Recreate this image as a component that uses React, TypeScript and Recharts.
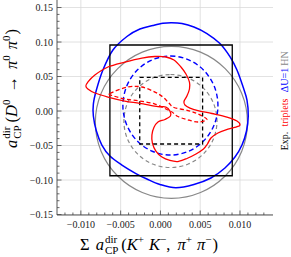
import React from 'react';
import { ScatterChart, Scatter, XAxis, YAxis, CartesianGrid } from 'recharts';

// ---------- axis ticks ----------
const xMajor = [-0.01, -0.005, 0, 0.005, 0.01];
const xMajorLabels = ['\u22120.010', '\u22120.005', '0.000', '0.005', '0.010'];
const xMinor = [-0.012, -0.011, -0.009, -0.008, -0.007, -0.006, -0.004, -0.003, -0.002, -0.001, 0.001, 0.002, 0.003, 0.004, 0.006, 0.007, 0.008, 0.009, 0.011, 0.012, 0.013];
const yMajor = [-0.15, -0.1, -0.05, 0, 0.05, 0.1, 0.15];
const yMajorLabels = ['\u22120.15', '\u22120.10', '\u22120.05', '0.00', '0.05', '0.10', '0.15'];
const yMinor = [-0.14, -0.13, -0.12, -0.11, -0.09, -0.08, -0.07, -0.06, -0.04, -0.03, -0.02, -0.01, 0.01, 0.02, 0.03, 0.04, 0.06, 0.07, 0.08, 0.09, 0.11, 0.12, 0.13, 0.14];
const xDomain = [-0.013, 0.01415];
const yDomain = [-0.1507, 0.1609];

// ---------- shapes (x, y) ----------
const graySolid: [number, number][] = [
  [0.00138, 0.0938], [0.00504, 0.0854], [0.00814, 0.0614], [0.01021, 0.0258], [0.01094, -0.0164],
  [0.01021, -0.0586], [0.00814, -0.0942], [0.00504, -0.1181], [0.00138, -0.1265], [-0.00228, -0.1181],
  [-0.00537, -0.0942], [-0.00745, -0.0586], [-0.00818, -0.0164], [-0.00745, 0.0258], [-0.00537, 0.0614],
  [-0.00228, 0.0854],
];
const grayDashed: [number, number][] = [
  [0.00126, 0.0529], [0.0035, 0.0478], [0.0054, 0.0332], [0.00667, 0.0113], [0.00711, -0.0145],
  [0.00667, -0.0403], [0.0054, -0.0622], [0.0035, -0.0768], [0.00126, -0.0819], [-0.00098, -0.0768],
  [-0.00288, -0.0622], [-0.00415, -0.0403], [-0.00459, -0.0145], [-0.00415, 0.0113], [-0.00288, 0.0332],
  [-0.00098, 0.0478],
];
const blueDashed: [number, number][] = [
  [0.00126, 0.0797], [0.00355, 0.0742], [0.00548, 0.0587], [0.00678, 0.0354], [0.00723, 0.008],
  [0.00678, -0.0194], [0.00548, -0.0428], [0.00355, -0.0583], [0.00126, -0.0638], [-0.00103, -0.0583],
  [-0.00297, -0.0428], [-0.00426, -0.0194], [-0.00472, 0.008], [-0.00426, 0.0354], [-0.00297, 0.0587],
  [-0.00103, 0.0742],
];
const blueSolid: [number, number][] = [
  [0.00141, 0.128], [0.0027, 0.1268], [0.00421, 0.1217], [0.00585, 0.1123], [0.00748, 0.0978],
  [0.00874, 0.0787], [0.00962, 0.0594], [0.01038, 0.0352], [0.01088, 0.0159], [0.01104, -0.0072],
  [0.01082, -0.029], [0.01025, -0.0493], [0.00937, -0.0667], [0.00811, -0.0826], [0.00635, -0.0971],
  [0.00421, -0.1065], [0.00195, -0.1112], [-0.00006, -0.1065], [-0.0017, -0.0986], [-0.00308, -0.0906],
  [-0.00484, -0.0783], [-0.00635, -0.0652], [-0.00736, -0.0493], [-0.00805, -0.029], [-0.00843, -0.0072],
  [-0.00843, 0.0101], [-0.00805, 0.0304], [-0.00723, 0.0594], [-0.00597, 0.0884], [-0.00421, 0.108],
  [-0.00258, 0.1188], [-0.00094, 0.1239], [0.00031, 0.1271],
];
const redSolid: [number, number][] = [
  [-0.00937, 0.0362], [-0.00912, 0.042], [-0.00824, 0.0522], [-0.0066, 0.0638], [-0.00447, 0.071],
  [-0.00233, 0.0768], [-0.00069, 0.079], [0.00069, 0.0783], [0.0017, 0.0739], [0.00258, 0.0638],
  [0.00321, 0.0536], [0.00365, 0.042], [0.00365, 0.0319], [0.00333, 0.0217], [0.00296, 0.0138],
  [0.00308, 0.0087], [0.00371, 0.0043], [0.00472, 0.0007], [0.00648, -0.0036], [0.00836, -0.0087],
  [0.00962, -0.0145], [0.01, -0.0203], [0.0095, -0.0232], [0.00849, -0.0261], [0.00723, -0.0319],
  [0.00635, -0.0391], [0.00591, -0.0478], [0.00541, -0.0551], [0.00447, -0.0623], [0.00333, -0.0688],
  [0.0022, -0.0732], [0.00119, -0.0717], [0.00019, -0.0667], [-0.00057, -0.058], [-0.00101, -0.0464],
  [-0.00107, -0.0348], [-0.00082, -0.0239], [-0.00031, -0.0159], [0.00057, -0.0123], [0.00126, -0.0072],
  [0.00119, 0.0], [0.00069, 0.0058], [-0.00031, 0.0065], [-0.00258, 0.0112], [-0.00447, 0.0145],
  [-0.0066, 0.0203], [-0.00824, 0.0261], [-0.00912, 0.0319],
];
const redDashed: [number, number][] = [
  [-0.00635, 0.0254], [-0.00409, 0.0348], [-0.00233, 0.0348], [-0.00069, 0.0275], [0.00031, 0.0203],
  [0.00107, 0.0116], [0.0017, 0.0051], [0.00346, 0.0007], [0.00472, -0.0043], [0.00585, -0.0123],
  [0.00472, -0.0159], [0.00333, -0.0123], [0.0022, -0.008], [0.00145, -0.0014], [0.00069, 0.0029],
  [-0.00069, 0.0101], [-0.00258, 0.0145], [-0.00447, 0.0174], [-0.00585, 0.0217],
];
const boxSolid: [number, number][] = [[-0.00635, 0.0957], [0.00903, 0.0957], [0.00903, -0.0938], [-0.00635, -0.0938]];
const boxDashed: [number, number][] = [[-0.0026, 0.0488], [0.0053, 0.0488], [0.0053, -0.0478], [-0.0026, -0.0478]];

const sideLabels = ['Exp.', 'triplets', '\u0394U=1', 'HN'];

// ---------- styling ----------
const SERIF = '"Liberation Serif", "Times New Roman", serif';
const FRAME = '#444';
const LABEL = '#222';

const toPts = (a: [number, number][]) => a.map(([x, y]) => ({ x, y }));
const near = (arr: number[], v: number) => arr.findIndex((m) => Math.abs(m - v) < 1e-9);

function catmullClosed(context: any) {
  let pts: number[][] = [];
  return {
    areaStart() {},
    areaEnd() {},
    lineStart() { pts = []; },
    point(x: number, y: number) { pts.push([x, y]); },
    lineEnd() {
      const n = pts.length;
      if (n < 3) return;
      context.moveTo(pts[0][0], pts[0][1]);
      for (let i = 0; i < n; i++) {
        const p0 = pts[(i - 1 + n) % n];
        const p1 = pts[i];
        const p2 = pts[(i + 1) % n];
        const p3 = pts[(i + 2) % n];
        context.bezierCurveTo(
          p1[0] + (p2[0] - p0[0]) / 6, p1[1] + (p2[1] - p0[1]) / 6,
          p2[0] - (p3[0] - p1[0]) / 6, p2[1] - (p3[1] - p1[1]) / 6,
          p2[0], p2[1],
        );
      }
      context.closePath();
    },
  };
}

const noShape = () => <g />;

const BottomTick = (p: any) => {
  const v = p.payload.value;
  const i = near(xMajor, v);
  const major = i >= 0;
  return (
    <g>
      <line x1={p.x} x2={p.x} y1={p.y} y2={p.y - (major ? 4.5 : 2.5)} stroke={FRAME} strokeWidth={0.8} />
      {major && (
        <text x={p.x} y={p.y + 12.5} textAnchor="middle" fontFamily={SERIF} fontSize={10} fill={LABEL}>
          {xMajorLabels[i]}
        </text>
      )}
    </g>
  );
};
const TopTick = (p: any) => {
  const major = near(xMajor, p.payload.value) >= 0;
  return <line x1={p.x} x2={p.x} y1={p.y} y2={p.y + (major ? 4.5 : 2.5)} stroke={FRAME} strokeWidth={0.8} />;
};
const LeftTick = (p: any) => {
  const v = p.payload.value;
  const i = near(yMajor, v);
  const major = i >= 0;
  return (
    <g>
      <line x1={p.x} x2={p.x + (major ? 4.5 : 2.5)} y1={p.y} y2={p.y} stroke={FRAME} strokeWidth={0.8} />
      {major && (
        <text x={p.x - 4} y={p.y} dy="0.35em" textAnchor="end" fontFamily={SERIF} fontSize={10} fill={LABEL}>
          {yMajorLabels[i]}
        </text>
      )}
    </g>
  );
};
const RightTick = (p: any) => {
  const major = near(yMajor, p.payload.value) >= 0;
  return <line x1={p.x} x2={p.x - (major ? 4.5 : 2.5)} y1={p.y} y2={p.y} stroke={FRAME} strokeWidth={0.8} />;
};

const xTicksAll = [...xMajor, ...xMinor].sort((a, b) => a - b);
const yTicksAll = [...yMajor, ...yMinor].sort((a, b) => a - b);

export default function App() {
  const sideColors = ['#000', '#f00', '#00f', '#888'];
  const sideY = [141, 112.5, 80, 58.5];
  const FS = 16.5;
  const SS = 11;
  return (
    <div style={{ position: 'absolute', left: 0, top: 0, width: 291, height: 257, background: '#fff' }}>
      <ScatterChart width={291} height={257} margin={{ top: 0, right: 18, bottom: 0, left: 0 }}>
        <CartesianGrid stroke="#d9d9d9" strokeWidth={0.8} verticalValues={xMajor} horizontalValues={yMajor} />
        <XAxis
          xAxisId={0}
          type="number"
          dataKey="x"
          domain={xDomain}
          allowDataOverflow
          ticks={xTicksAll}
          interval={0}
          tick={BottomTick}
          tickLine={false}
          tickSize={0}
          tickMargin={0}
          axisLine={{ stroke: FRAME, strokeWidth: 0.9 }}
          height={42}
        />
        <XAxis
          xAxisId="top"
          orientation="top"
          type="number"
          dataKey="x"
          domain={xDomain}
          allowDataOverflow
          ticks={xTicksAll}
          interval={0}
          tick={TopTick}
          tickLine={false}
          tickSize={0}
          tickMargin={0}
          axisLine={{ stroke: FRAME, strokeWidth: 0.9 }}
          height={0}
        />
        <YAxis
          yAxisId={0}
          type="number"
          dataKey="y"
          domain={yDomain}
          allowDataOverflow
          ticks={yTicksAll}
          interval={0}
          tick={LeftTick}
          tickLine={false}
          tickSize={0}
          tickMargin={0}
          axisLine={{ stroke: FRAME, strokeWidth: 0.9 }}
          width={57}
        />
        <YAxis
          yAxisId="right"
          orientation="right"
          type="number"
          dataKey="y"
          domain={yDomain}
          allowDataOverflow
          ticks={yTicksAll}
          interval={0}
          tick={RightTick}
          tickLine={false}
          tickSize={0}
          tickMargin={0}
          axisLine={{ stroke: FRAME, strokeWidth: 0.9 }}
          width={0}
        />
        <Scatter data={toPts(graySolid)} line={{ stroke: '#888', strokeWidth: 1.2 }} lineJointType={catmullClosed as any} shape={noShape} isAnimationActive={false} />
        <Scatter data={toPts(grayDashed)} line={{ stroke: '#888', strokeWidth: 1.2, strokeDasharray: '4 3' }} lineJointType={catmullClosed as any} shape={noShape} isAnimationActive={false} />
        <Scatter data={toPts(blueSolid)} line={{ stroke: '#0000ff', strokeWidth: 1.5 }} lineJointType={catmullClosed as any} shape={noShape} isAnimationActive={false} />
        <Scatter data={toPts(blueDashed)} line={{ stroke: '#0000ff', strokeWidth: 1.4, strokeDasharray: '5 3' }} lineJointType={catmullClosed as any} shape={noShape} isAnimationActive={false} />
        <Scatter data={toPts(boxSolid)} line={{ stroke: '#000', strokeWidth: 1.3 }} lineJointType="linearClosed" shape={noShape} isAnimationActive={false} />
        <Scatter data={toPts(boxDashed)} line={{ stroke: '#000', strokeWidth: 1.3, strokeDasharray: '4 3' }} lineJointType="linearClosed" shape={noShape} isAnimationActive={false} />
        <Scatter data={toPts(redSolid)} line={{ stroke: '#ff0000', strokeWidth: 1.3 }} lineJointType={catmullClosed as any} shape={noShape} isAnimationActive={false} />
        <Scatter data={toPts(redDashed)} line={{ stroke: '#ff0000', strokeWidth: 1.3, strokeDasharray: '4 2.5' }} lineJointType={catmullClosed as any} shape={noShape} isAnimationActive={false} />
      </ScatterChart>
      <svg width={291} height={257} style={{ position: 'absolute', left: 0, top: 0, pointerEvents: 'none' }}>
        {sideLabels.map((t, i) => (
          <text
            key={t}
            transform={`translate(284,${sideY[i]}) rotate(-90)`}
            textAnchor="middle"
            dy="0.35em"
            fontFamily={SERIF}
            fontSize={10}
            fill={sideColors[i]}
          >
            {t}
          </text>
        ))}
        <text x={149} y={250} textAnchor="middle" fontFamily={SERIF} fontSize={FS} fill="#000">
          <tspan>Σ</tspan>
          <tspan dx={6} fontStyle="italic">a</tspan>
          <tspan fontSize={SS} dx={1} dy={4}>CP</tspan>
          <tspan fontSize={SS} dx={-13.4} dy={-11}>dir</tspan>
          <tspan dx={4} dy={7}>(</tspan>
          <tspan fontStyle="italic">K</tspan>
          <tspan fontSize={SS} dy={-7}>+</tspan>
          <tspan dx={5} dy={7} fontStyle="italic">K</tspan>
          <tspan fontSize={SS} dy={-7}>−</tspan>
          <tspan dy={7}>,</tspan>
          <tspan dx={7} fontStyle="italic">π</tspan>
          <tspan fontSize={SS} dy={-7}>+</tspan>
          <tspan dx={5} dy={7} fontStyle="italic">π</tspan>
          <tspan fontSize={SS} dy={-7}>−</tspan>
          <tspan dx={1} dy={7}>)</tspan>
        </text>
        <text transform="translate(17,88.5) rotate(-90)" textAnchor="middle" fontFamily={SERIF} fontSize={FS} fill="#000">
          <tspan fontStyle="italic">a</tspan>
          <tspan fontSize={SS} dx={1} dy={4}>CP</tspan>
          <tspan fontSize={SS} dx={-13.4} dy={-11}>dir</tspan>
          <tspan dx={4} dy={7}>(</tspan>
          <tspan fontStyle="italic">D</tspan>
          <tspan fontSize={SS} dy={-7}>0</tspan>
          <tspan dx={7} dy={7}>→</tspan>
          <tspan dx={7} fontStyle="italic">π</tspan>
          <tspan fontSize={SS} dy={-7}>0</tspan>
          <tspan dx={6} dy={7} fontStyle="italic">π</tspan>
          <tspan fontSize={SS} dy={-7}>0</tspan>
          <tspan dx={1} dy={7}>)</tspan>
        </text>
      </svg>
    </div>
  );
}
